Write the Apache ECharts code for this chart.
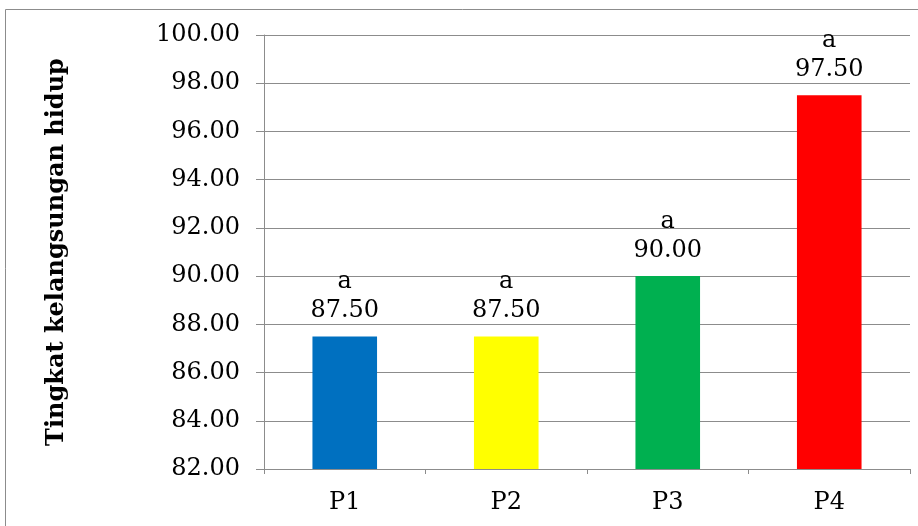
<!DOCTYPE html>
<html>
<head>
<meta charset="utf-8">
<script src="https://cdn.jsdelivr.net/npm/echarts@6/dist/echarts.min.js"></script>
<style>
  html, body { margin: 0; padding: 0; background: #fff; }
  #chart { width: 918px; height: 526px; }
</style>
</head>
<body>
<div id="chart"></div>
<script>
// Survival rate per treatment
const categories = ['P1', 'P2', 'P3', 'P4'];
const survival = [87.5, 87.5, 90.0, 97.5];
const letters = ['a', 'a', 'a', 'a'];
const barColors = ['#0070C0', '#FFFF00', '#00B050', '#FF0000'];
const yTitle = 'Tingkat kelangsungan hidup';

const FONT = '"DejaVu Serif", "Liberation Serif", serif';

const chart = echarts.init(document.getElementById('chart'), null, { renderer: 'canvas' });

chart.setOption({
  animation: false,
  backgroundColor: '#fff',
  graphic: [{
    type: 'rect',
    silent: true,
    shape: { x: 5.5, y: 9.5, width: 930, height: 540 },
    style: { fill: 'none', stroke: '#8c8c8c', lineWidth: 1 }
  }],
  grid: { left: 264, right: 8, top: 35, bottom: 57 },
  xAxis: {
    type: 'category',
    data: categories,
    axisLine: { lineStyle: { color: '#8c8c8c', width: 1 } },
    axisTick: { show: true, alignWithLabel: false, length: 5, lineStyle: { color: '#8c8c8c' } },
    axisLabel: { color: '#000', fontFamily: FONT, fontSize: 24, margin: 22 },
    splitLine: { show: false }
  },
  yAxis: {
    type: 'value',
    min: 82,
    max: 100,
    interval: 2,
    name: yTitle,
    nameLocation: 'middle',
    nameGap: 195,
    nameTextStyle: { color: '#000', fontFamily: FONT, fontSize: 24, fontWeight: 'bold' },
    axisLine: { show: true, lineStyle: { color: '#8c8c8c', width: 1 } },
    axisTick: { show: true, length: 8, lineStyle: { color: '#8c8c8c' } },
    axisLabel: {
      color: '#000', fontFamily: FONT, fontSize: 24, margin: 24,
      formatter: v => v.toFixed(2)
    },
    splitLine: { show: true, lineStyle: { color: '#8c8c8c', width: 1 } }
  },
  series: [{
    type: 'bar',
    barWidth: '40%',
    data: survival.map((v, i) => ({ value: v, itemStyle: { color: barColors[i] } })),
    label: {
      show: true,
      position: 'top',
      distance: 11,
      color: '#000',
      fontFamily: FONT,
      fontSize: 24,
      lineHeight: 29,
      align: 'center',
      formatter: p => letters[p.dataIndex] + '\n' + p.value.toFixed(2)
    }
  }]
});
</script>
</body>
</html>
